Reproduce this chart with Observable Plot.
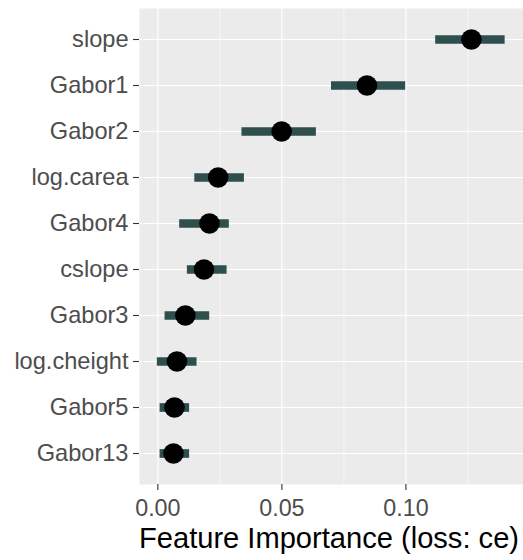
<!DOCTYPE html>
<html>
<head>
<meta charset="utf-8">
<script src="https://cdn.jsdelivr.net/npm/d3@7"></script>
<script src="https://cdn.jsdelivr.net/npm/@observablehq/plot@0.6"></script>
<style>
  html, body { margin: 0; padding: 0; background: white; }
  #chart svg { display: block; }
</style>
</head>
<body>
<div id="chart"></div>
<script>
const features = ["slope", "Gabor1", "Gabor2", "log.carea", "Gabor4", "cslope", "Gabor3", "log.cheight", "Gabor5", "Gabor13"];
const importance = [0.1264, 0.0843, 0.0499, 0.0243, 0.0208, 0.0186, 0.0111, 0.0077, 0.0067, 0.0063];
const lower = [0.1120, 0.0700, 0.0339, 0.0149, 0.0088, 0.0119, 0.0029, -0.0002, 0.0009, 0.0009];
const upper = [0.1400, 0.0999, 0.0639, 0.0349, 0.0288, 0.0279, 0.0209, 0.0158, 0.0128, 0.0128];
const majorTicks = [0, 0.05, 0.10];
const minorTicks = [0.025, 0.075, 0.125];
const tickLabels = ["0.00", "0.05", "0.10"];
const xTitle = "Feature Importance (loss: ce)";

const data = features.map((f, i) => ({feature: f, imp: importance[i], lo: lower[i], hi: upper[i]}));

const plot = Plot.plot({
  width: 523,
  height: 560,
  marginLeft: 139,
  marginRight: 0,
  marginTop: 8,
  marginBottom: 76,
  style: {fontFamily: "'Liberation Sans', Arial, sans-serif", background: "white"},
  x: {domain: [-0.0074, 0.1474]},
  y: {type: "point", domain: features, padding: 0.6},
  marks: [
    Plot.frame({fill: "#EBEBEB", stroke: null}),
    Plot.gridX(minorTicks, {stroke: "white", strokeOpacity: 1, strokeWidth: 0.6}),
    Plot.gridX(majorTicks, {stroke: "white", strokeOpacity: 1, strokeWidth: 1.2}),
    Plot.gridY(features, {stroke: "white", strokeOpacity: 1, strokeWidth: 1.2}),
    Plot.ruleY(data, {y: "feature", x1: "lo", x2: "hi", stroke: "#2F4F4F", strokeWidth: 8.7}),
    Plot.dot(data, {x: "imp", y: "feature", r: 10.3, fill: "black", stroke: null}),
    Plot.axisY({tickSize: 6, tickPadding: 5, fontSize: 23.6, fill: "#4D4D4D", stroke: "#333333", strokeWidth: 1.1, label: null}),
    Plot.axisX(majorTicks, {tickSize: 6, tickPadding: 9, fontSize: 23.3, fill: "#4D4D4D", stroke: "#333333", strokeWidth: 1.1, label: null,
      tickFormat: (d) => tickLabels[majorTicks.indexOf(d)]}),
    Plot.text([xTitle], {frameAnchor: "bottom", lineAnchor: "middle", dy: 54, dx: -2.5, fontSize: 29.1, fill: "black"})
  ]
});
document.getElementById("chart").appendChild(plot);
</script>
</body>
</html>
